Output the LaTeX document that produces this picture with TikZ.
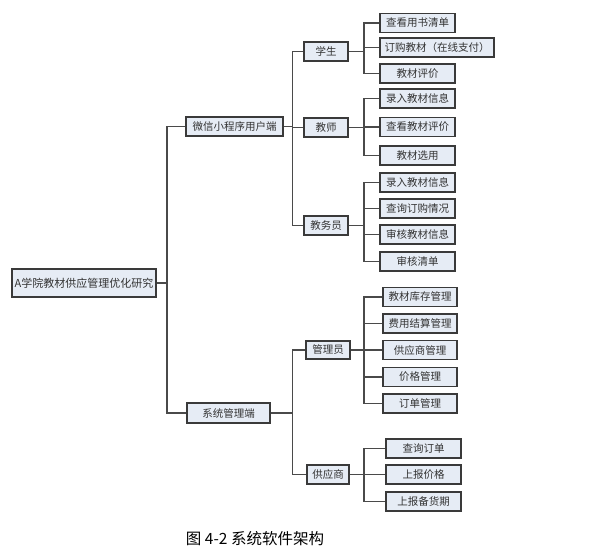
\documentclass[tikz,border=0pt]{standalone}
\usepackage{fontspec}
\setmainfont{Noto Sans CJK SC}
\usepackage{tikz}
\usetikzlibrary{positioning,calc}
\definecolor{ARFill}{HTML}{E6ECF5}
\definecolor{AREdge}{HTML}{3A3A3A}
\definecolor{ARLine}{HTML}{4A4A4A}
\definecolor{ARText}{HTML}{333333}
\tikzset{
  box/.style={draw=AREdge,line width=1.4pt,fill=ARFill,text=ARText,inner sep=0pt,
              minimum height=19pt,font=\fontsize{10.5}{12}\selectfont,align=center},
  rootbox/.style={box,minimum width=144pt,minimum height=28pt,font=\fontsize{11}{13}\selectfont},
  partbox/.style={box},
  rolebox/.style={box,minimum width=44pt},
  leafbox/.style={box,minimum width=75pt},
  tree/.style={draw=ARLine,line width=1.2pt},
  caption/.style={text=black,font=\fontsize{15.5}{18}\selectfont},
}
\begin{document}
\begin{tikzpicture}[x=1pt,y=-1pt]
  \useasboundingbox (0,0) rectangle (596,554);

  % root and the two ends
  \node[rootbox] (root) at (84,283) {A学院教材供应管理优化研究};
  \node[partbox,minimum width=97pt] (wx) at (234.5,126.5) {微信小程序用户端};
  \node[partbox,minimum width=83pt,minimum height=20pt] (sys) at (228.5,413) {系统管理端};

  % roles
  \node[rolebox] (stu) at (326,51.5) {学生};
  \node[rolebox] (tea) at (326,127.5) {教师};
  \node[rolebox] (jwy) at (326,225.5) {教务员};
  \node[rolebox,minimum height=18pt] (mgr) at (328,350) {管理员};
  \node[rolebox,minimum width=42pt] (sup) at (328,474.5) {供应商};

  % leaves of the wechat side
  \node[leafbox] (stu1) at (417.5,23) {查看用书清单};
  \node[leafbox,minimum width=114pt] (stu2) at (437,47.5) {订购教材（在线支付）};
  \node[leafbox] (stu3) at (417.5,73.5) {教材评价};
  \node[leafbox] (tea1) at (417.5,98.5) {录入教材信息};
  \node[leafbox] (tea2) at (417.5,127) {查看教材评价};
  \node[leafbox] (tea3) at (417.5,155.5) {教材选用};
  \node[leafbox] (jwy1) at (417.5,182.5) {录入教材信息};
  \node[leafbox] (jwy2) at (417.5,208.5) {查询订购情况};
  \node[leafbox] (jwy3) at (417.5,234.5) {审核教材信息};
  \node[leafbox] (jwy4) at (417.5,261.5) {审核清单};

  % leaves of the system side
  \node[leafbox,minimum width=74pt] (mgr1) at (420,297) {教材库存管理};
  \node[leafbox,minimum width=74pt] (mgr2) at (420,323.5) {费用结算管理};
  \node[leafbox,minimum width=74pt] (mgr3) at (420,350) {供应商管理};
  \node[leafbox,minimum width=74pt] (mgr4) at (420,377) {价格管理};
  \node[leafbox,minimum width=74pt] (mgr5) at (420,403.5) {订单管理};
  \node[leafbox] (sup1) at (423.5,448.5) {查询订单};
  \node[leafbox] (sup2) at (423.5,474.5) {上报价格};
  \node[leafbox] (sup3) at (423.5,501.5) {上报备货期};

  % bus lines
  \coordinate (b0) at (167,0);
  \coordinate (b1) at (292.5,0);
  \coordinate (b2) at (364,0);

  \draw[tree] (root.east) -- (root.east -| b0);
  \foreach \c in {wx,sys}
    \draw[tree] (root.east -| b0) |- (\c.west);

  \draw[tree] (wx.east) -- (wx.east -| b1);
  \foreach \c in {stu,tea,jwy}
    \draw[tree] (wx.east -| b1) |- (\c.west);
  \draw[tree] (sys.east) -- (sys.east -| b1);
  \foreach \c in {mgr,sup}
    \draw[tree] (sys.east -| b1) |- (\c.west);

  \draw[tree] (stu.east) -- (stu.east -| b2);
  \foreach \c in {stu1,stu2,stu3}
    \draw[tree] (stu.east -| b2) |- (\c.west);
  \draw[tree] (tea.east) -- (tea.east -| b2);
  \foreach \c in {tea1,tea2,tea3}
    \draw[tree] (tea.east -| b2) |- (\c.west);
  \draw[tree] (jwy.east) -- (jwy.east -| b2);
  \foreach \c in {jwy1,jwy2,jwy3,jwy4}
    \draw[tree] (jwy.east -| b2) |- (\c.west);
  \draw[tree] (mgr.east) -- (mgr.east -| b2);
  \foreach \c in {mgr1,mgr2,mgr3,mgr4,mgr5}
    \draw[tree] (mgr.east -| b2) |- (\c.west);
  \draw[tree] (sup.east) -- (sup.east -| b2);
  \foreach \c in {sup1,sup2,sup3}
    \draw[tree] (sup.east -| b2) |- (\c.west);

  \node[caption] (cap) at (255,538.5) {图 4-2 系统软件架构};
\end{tikzpicture}
\end{document}
